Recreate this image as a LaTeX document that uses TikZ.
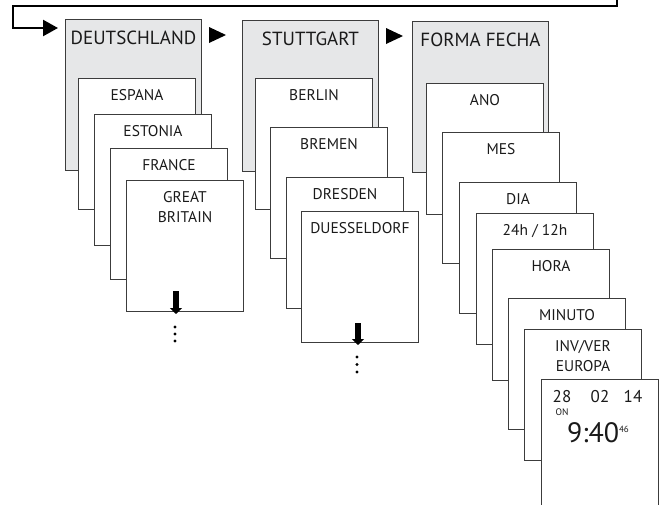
\documentclass[tikz,border=0pt]{standalone}
\usepackage{fontspec}
\setmainfont{PT Sans}
\usetikzlibrary{arrows.meta}
\definecolor{hdrgray}{HTML}{E6E7E8}
\definecolor{edge}{HTML}{3C3C3C}
\definecolor{ink}{HTML}{1A1A1A}

\begin{document}
\begin{tikzpicture}[x=1pt, y=-1pt, text=ink,
  hdr/.style={draw=edge, fill=hdrgray, line width=1pt, anchor=north west, inner sep=0pt,
    minimum width=136pt, text height=25pt, text depth=126pt, font=\fontsize{19}{22}\selectfont},
  card/.style={draw=edge, fill=white, line width=1pt, anchor=north west, inner sep=0pt,
    minimum width=117pt, text height=22pt, text depth=109pt, align=center,
    font=\fontsize{15.5}{20}\selectfont},
  twolines/.style={text height=42pt, text depth=89pt},
  fb/.style={line width=2.4pt, -{Triangle[length=15pt,width=16pt]}},
  down/.style={line width=6pt, -{Triangle[length=6pt,width=12pt]}}]
\useasboundingbox (0,0) rectangle (662,504);

% first column
\node[hdr] (deutsch) at (65,19) {DEUTSCHLAND};
\node[card] (espana) at (78,78) {ESPANA};
\node[card] (estonia) at (94,114) {ESTONIA};
\node[card] (france) at (110,148) {FRANCE};
\node[card, twolines] (gb) at (126,180) {GREAT\\BRITAIN};

% second column
\node[hdr] (stutt) at (242,20) {STUTTGART};
\node[card] (berlin) at (255,78) {BERLIN};
\node[card] (bremen) at (270,127) {BREMEN};
\node[card] (dresden) at (286,177) {DRESDEN};
\node[card] (duess) at (301,211) {DUESSELDORF};

% third column
\node[hdr] (forma) at (412,21) {FORMA FECHA};
\node[card] (ano) at (426,83) {ANO};
\node[card] (mes) at (442,132) {MES};
\node[card] (dia) at (459,182) {DIA};
\node[card] (mode) at (476,213) {24h / 12h};
\node[card] (hora) at (492,249) {HORA};
\node[card] (minuto) at (508,298) {MINUTO};
\node[card, twolines] (europa) at (524,329) {INV/VER\\EUROPA};
\node[card] (clock) at (541,379) {};

% clock display
\node[anchor=base, font=\fontsize{17}{17}\selectfont] (day) at (562,402) {28};
\node[anchor=base, font=\fontsize{17}{17}\selectfont] (month) at (600,402) {02};
\node[anchor=base, font=\fontsize{17}{17}\selectfont] (year) at (633,402) {14};
\node[font=\fontsize{9.5}{9.5}\selectfont] (on) at (562,412) {ON};
\node[anchor=base, font=\fontsize{28}{28}\selectfont] (time) at (598,442)
  {9:40\raisebox{10pt}{\fontsize{9}{9}\selectfont 46}};

% loop back and steps
\coordinate (loopin) at (617,-2);
\draw[fb] (loopin) |- (13,6) |- ([shift={(-7,9)}]deutsch.north west);
\fill ([shift={(7,8)}]deutsch.north east) -- ++(17,8) -- ++(-17,8) -- cycle;
\fill ([shift={(7,8)}]stutt.north east) -- ++(17,8) -- ++(-17,8) -- cycle;

% more entries
\draw[down] ([shift={(-9,-21)}]gb.south) -- ([shift={(-9,2)}]gb.south);
\draw[down] ([shift={(-2,-20)}]duess.south) -- ([shift={(-2,2)}]duess.south);
\fill (175,327) circle[radius=1.6pt] (175,334) circle[radius=1.6pt] (175,341) circle[radius=1.6pt];
\fill (357,357) circle[radius=1.6pt] (357,364.5) circle[radius=1.6pt] (357,372) circle[radius=1.6pt];
\end{tikzpicture}
\end{document}
